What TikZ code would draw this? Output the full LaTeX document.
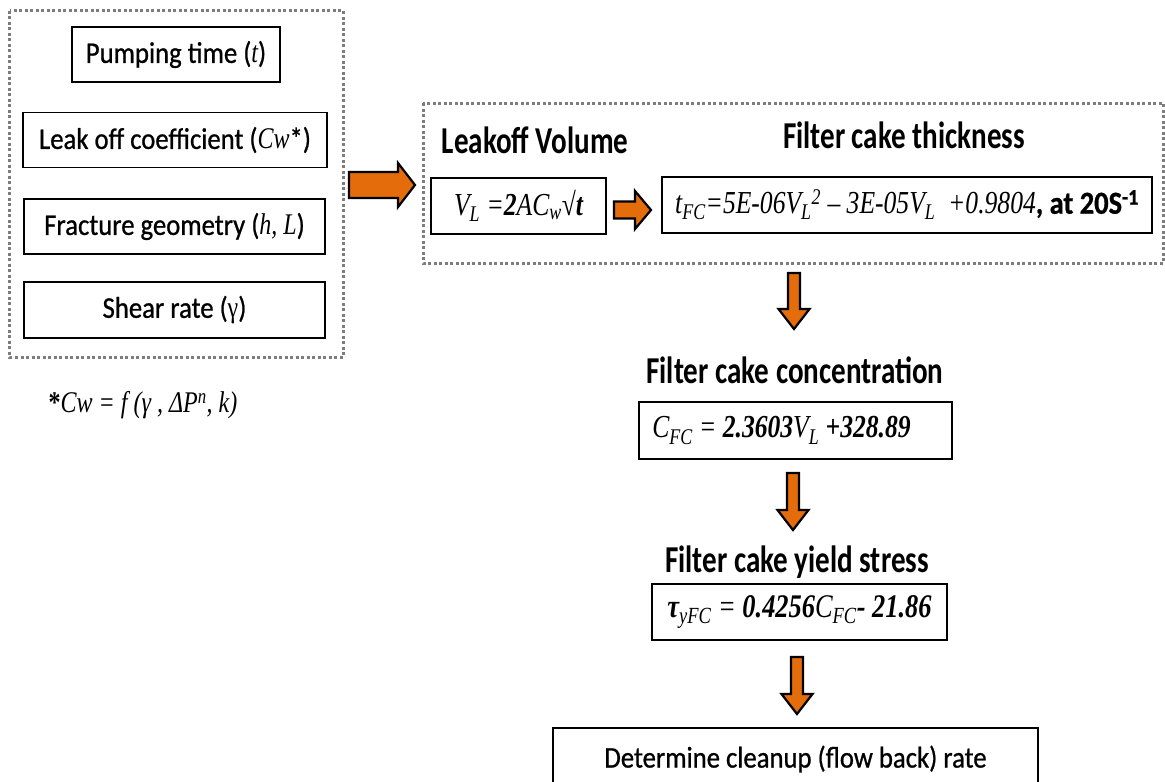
\documentclass[tikz,border=0pt]{standalone}
\usepackage{fontspec}
\setmainfont{Carlito}[FakeStretch=0.89,FakeBold=0.8]
\newfontfamily\headfont{Carlito}[FakeStretch=0.765]
\newfontfamily\tnr{Liberation Serif}[FakeStretch=0.80]
\usetikzlibrary{calc}
\definecolor{arrorange}{RGB}{228,108,10}
\definecolor{dotgray}{RGB}{125,125,125}
\newcommand{\dsub}[1]{\textsubscript{#1}}
\newcommand{\dsup}[1]{\textsuperscript{#1}}
\newcommand{\downblk}[3]{\draw[blk] (#1-6,#2) -- (#1+6,#2) -- (#1+6,#3-20) -- (#1+15.5,#3-20) -- (#1,#3) -- (#1-15.5,#3-20) -- (#1-6,#3-20) -- cycle;}
\newcommand{\rightblk}[6]{\draw[blk] (#1,#4-#5) -- (#2,#4-#5) -- (#2,#4-#6) -- (#3,#4) -- (#2,#4+#6) -- (#2,#4+#5) -- (#1,#4+#5) -- cycle;}
\begin{document}
\begin{tikzpicture}[x=1pt,y=-1pt,
  lbox/.style={draw, line width=1.3pt, inner sep=0pt, minimum height=55pt, font=\fontsize{30}{32}\selectfont},
  grp/.style={draw=dotgray, line width=3pt, dash pattern=on 3pt off 2.5pt},
  head/.style={font=\headfont\fontsize{38}{40}\selectfont\bfseries, inner sep=0pt},
  eqbox/.style={draw, line width=1.3pt, inner sep=0pt, minimum height=56pt, font=\tnr\itshape\fontsize{32}{34}\selectfont},
  blk/.style={draw=black, fill=arrorange, line width=2.2pt, line join=miter}
]
\useasboundingbox (0,0) rectangle (1165,782);
\clip (0,0) rectangle (1165,782);

% left group
\draw[grp] (9.5,10.5) rectangle (343,357);
\node[lbox, minimum width=208pt] (pump) at (176,54.5) {Pumping time ({\tnr\itshape t})};
\node[lbox, minimum width=304pt] (leak) at (175,140) {Leak off coefficient ({\tnr\itshape Cw}*)};
\node[lbox, minimum width=301pt] (frac) at (174.5,226.5) {Fracture geometry ({\tnr\itshape h,\ L})};
\node[lbox, minimum width=301pt, minimum height=56pt] (shear) at (174.5,310) {Shear rate ({\tnr γ})};
\node[inner sep=0pt, font=\tnr\itshape\fontsize{30}{32}\selectfont] (note) at (143,405) {{\upshape\bfseries *}Cw = f (γ , ΔP\dsup{n}, k)};

% right group
\draw[grp] (423,103) rectangle (1163,263);
\node[head] (hvl) at (535,140) {Leakoff Volume};
\node[head] (htfc) at (904,135) {Filter cake thickness};
\node[eqbox, minimum width=175pt] (vl) at (518.5,206) {V\dsub{L} =\textbf{2}AC\dsub{w}√\textbf{t}};
\node[eqbox, minimum width=490pt] (tfc) at (907,205) {t\dsub{FC}=5E-06V\dsub{L}\dsup{2} – 3E-05V\dsub{L}\ \ +0.9804{\upshape\rmfamily\bfseries, at 20S\dsup{-1}}};

% chain
\node[head] (hcfc) at (795,370) {Filter cake concentration};
\node[eqbox, minimum width=313pt, minimum height=57pt] (cfc) at (795.5,430.5) {C\dsub{FC} = \textbf{2.3603}V\dsub{L} \textbf{+328.89}\kern 28pt\relax};
\node[head] (hty) at (797,562) {Filter cake yield stress};
\node[eqbox, minimum width=295pt, font=\tnr\itshape\fontsize{33}{35}\selectfont] (ty) at (799.5,612) {\textbf{τ}\dsub{yFC} = \textbf{0.4256}C\dsub{FC}\textbf{- 21.86}};
\node[lbox, minimum width=485pt, minimum height=62pt] (det) at (795.5,759) {Determine cleanup (flow back) rate};

% block arrows
\rightblk{349}{398}{415}{185}{13}{22}
\rightblk{614}{635}{651}{210}{8.5}{19}
\downblk{794}{273}{329}
\downblk{793}{473}{530}
\downblk{797}{657}{714}
\end{tikzpicture}
\end{document}
